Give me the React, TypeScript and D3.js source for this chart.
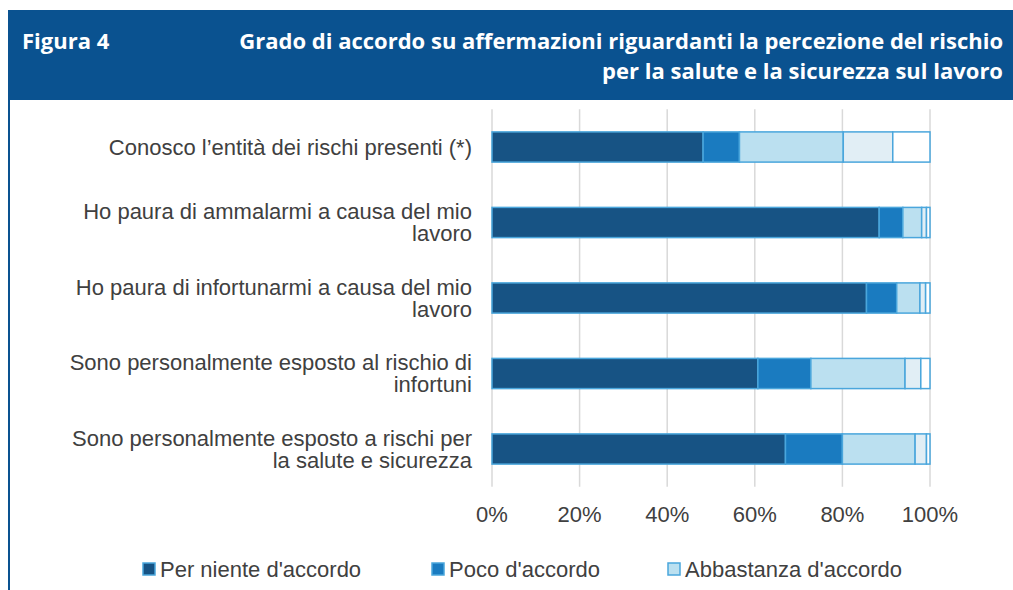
import * as d3 from "d3";

const categories: string[][] = [
  ["Conosco l’entità dei rischi presenti (*)"],
  ["Ho paura di ammalarmi a causa del mio", "lavoro"],
  ["Ho paura di infortunarmi a causa del mio", "lavoro"],
  ["Sono personalmente esposto al rischio di", "infortuni"],
  ["Sono personalmente esposto a rischi per", "la salute e sicurezza"],
];

const seriesNames = [
  "Per niente d'accordo",
  "Poco d'accordo",
  "Abbastanza d'accordo",
  "Molto d'accordo",
  "Completamente d'accordo",
];

const perNiente = [48.2, 88.4, 85.5, 60.7, 67.0];
const poco = [8.3, 5.4, 6.9, 12.1, 13.0];
const abbastanza = [23.7, 4.3, 5.3, 21.5, 16.6];
const molto = [11.3, 1.1, 1.3, 3.6, 2.6];
const completamente = [8.5, 0.8, 1.0, 2.1, 0.8];

const seriesColors = ["#175384", "#1a7bc0", "#bbe0f0", "#e1eef5", "#ffffff"];
const legendCount = 3;
const xTicks = [0, 20, 40, 60, 80, 100];

export default function App() {
  const W = 1013;
  const H = 590;
  const headerBlue = "#0a5290";
  const textColor = "#404040";
  const font = "'Liberation Sans', Arial, sans-serif";

  const x = d3.scaleLinear().domain([0, 100]).range([492, 930]);
  const y = d3
    .scaleBand<number>()
    .domain(categories.map((_, i) => i))
    .range([109.25, 486.75])
    .paddingInner(0.6)
    .paddingOuter(0.3);

  const rows = categories.map((_, i) => ({
    s0: perNiente[i],
    s1: poco[i],
    s2: abbastanza[i],
    s3: molto[i],
    s4: completamente[i],
  }));
  const keys = ["s0", "s1", "s2", "s3", "s4"];
  const stacked = d3.stack<any>().keys(keys)(rows);

  const legendX = [143, 432, 668];

  return (
    <div style={{ position: "absolute", left: 0, top: 0, width: W, height: H }}>
      <svg width={W} height={H} style={{ display: "block" }}>
        {/* header */}
        <rect x={8} y={10} width={W - 8} height={90} fill={headerBlue} />
        <line x1={9} x2={9} y1={100} y2={H} stroke={headerBlue} strokeWidth={2} />
        <g fontFamily="'Open Sans', 'Noto Sans', sans-serif" fontWeight={700} fontSize={22} fill="#fff">
          <text x={22} y={49}>Figura 4</text>
          <text x={1003} y={49} textAnchor="end">
            Grado di accordo su affermazioni riguardanti la percezione del rischio
          </text>
          <text x={1003} y={79} textAnchor="end">
            per la salute e la sicurezza sul lavoro
          </text>
        </g>

        {/* grid */}
        <g>
          {xTicks.map((t) => (
            <line
              key={t}
              x1={x(t)}
              x2={x(t)}
              y1={y.range()[0]}
              y2={y.range()[1]}
              stroke="#d9d9d9"
              strokeWidth={1.5}
            />
          ))}
        </g>

        {/* bars */}
        <g>
          {stacked.map((layer, si) =>
            layer.map((d, i) => (
              <rect
                key={`${si}-${i}`}
                x={x(d[0])}
                y={y(i)}
                width={x(d[1]) - x(d[0])}
                height={y.bandwidth()}
                fill={seriesColors[si]}
                stroke="#4aa6dc"
                strokeWidth={1.5}
              />
            ))
          )}
        </g>

        {/* category labels */}
        <g fontFamily={font} fontSize={22} fill={textColor} textAnchor="end">
          {categories.map((lines, i) => {
            const cy = (y(i) as number) + y.bandwidth() / 2;
            const lh = 22;
            const start = cy - ((lines.length - 1) * lh) / 2;
            return (
              <text key={i}>
                {lines.map((l, j) => (
                  <tspan key={j} x={472} y={start + j * lh} dy="0.35em">
                    {l}
                  </tspan>
                ))}
              </text>
            );
          })}
        </g>

        {/* x axis labels */}
        <g fontFamily={font} fontSize={22} fill={textColor} textAnchor="middle">
          {xTicks.map((t) => (
            <text key={t} x={x(t)} y={522}>
              {`${t}%`}
            </text>
          ))}
        </g>

        {/* legend */}
        <g fontFamily={font} fontSize={22} fill={textColor}>
          {seriesNames.slice(0, legendCount).map((name, i) => (
            <g key={name} transform={`translate(${legendX[i]},0)`}>
              <rect x={0} y={563} width={12} height={12} fill={seriesColors[i]} stroke="#4aa6dc" strokeWidth={1.5} />
              <text x={17} y={577}>{name}</text>
            </g>
          ))}
        </g>
      </svg>
    </div>
  );
}
